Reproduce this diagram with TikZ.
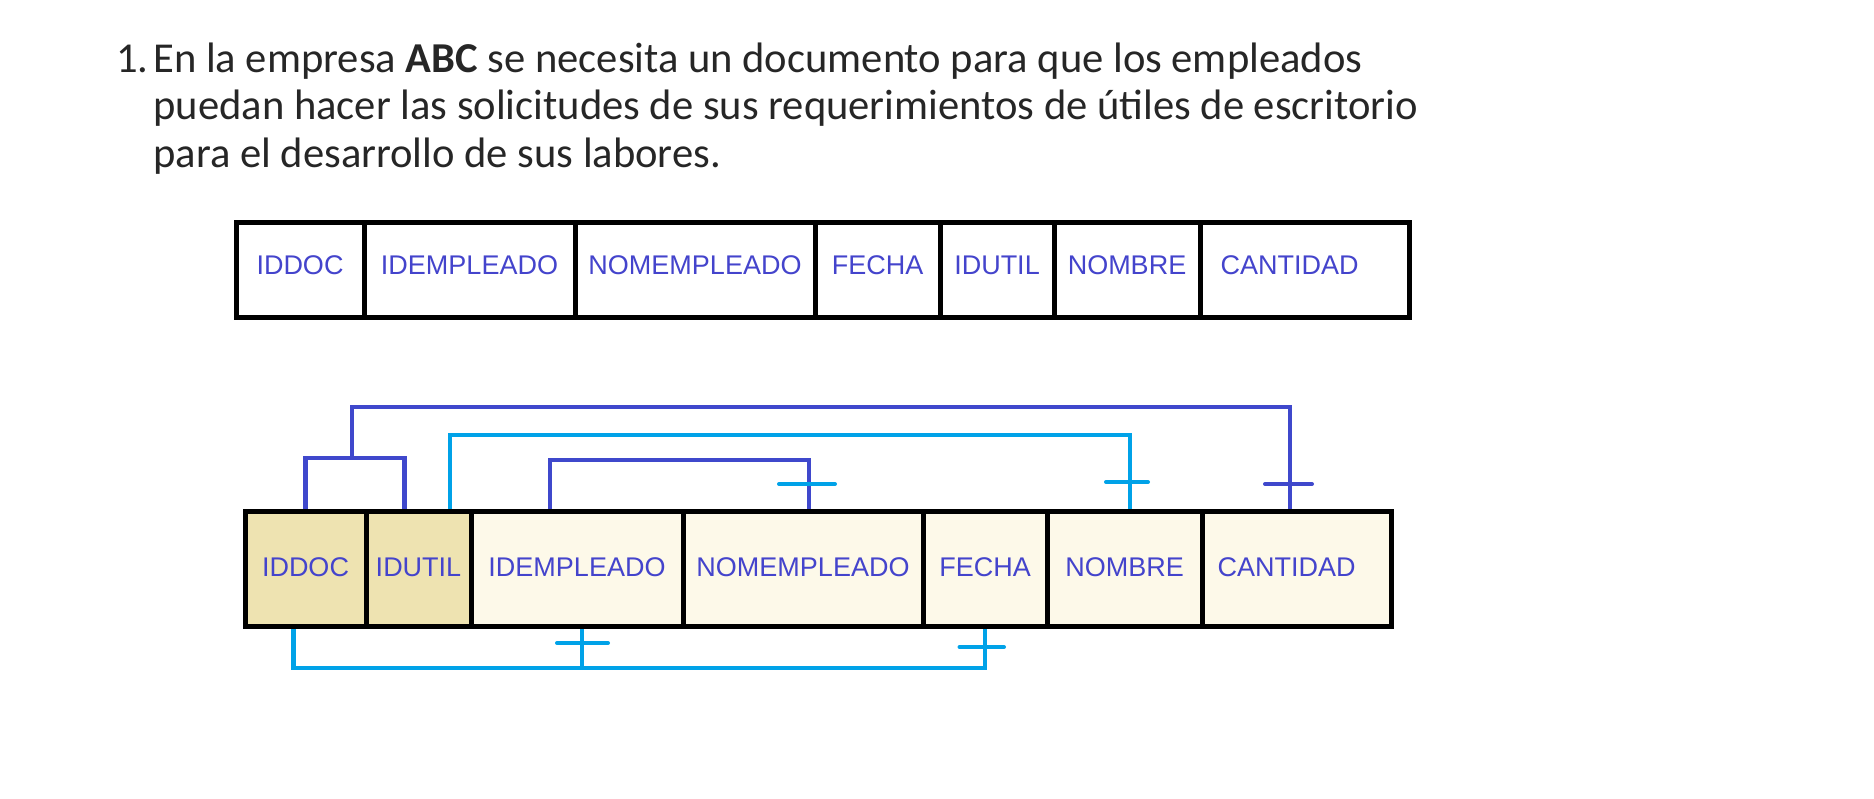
\documentclass[tikz,border=0pt]{standalone}
\usepackage{fontspec}
\setmainfont{Carlito}
\newfontfamily\fieldfont{Liberation Sans}
\usetikzlibrary{calc,positioning}

\definecolor{linkdark}{HTML}{3F48CC}
\definecolor{linklight}{HTML}{00A2E8}
\definecolor{labelblue}{HTML}{4444CC}
\definecolor{pkfill}{HTML}{EEE3B1}
\definecolor{cellfill}{HTML}{FDF9E9}

\begin{document}
\begin{tikzpicture}[x=0.5pt, y=-0.5pt,
    para/.style={anchor=base west, inner sep=0pt, font=\fontsize{21.3}{23.75}\selectfont, text=black!85},
    field/.style={draw, line width=2.5pt, inner sep=0pt, minimum height=#1,
      font=\fieldfont\fontsize{13.5}{16}\selectfont, text=labelblue},
    topfield/.style={field=47.25pt, fill=white, text depth=5pt},
    keyfield/.style={field=57.5pt, fill=pkfill, text depth=1.5pt},
    rowfield/.style={field=57.5pt, fill=cellfill, text depth=1.5pt},
    fkdark/.style={draw=linkdark, line width=2.25pt},
    fklight/.style={draw=linklight, line width=2.25pt},
    bar/.style={line width=2pt, line cap=round}
  ]
    % page frame
    \useasboundingbox (0,0) rectangle (1874,798);

    % statement
    \node[para] (num)   at (116,72)  {1.};
    \node[para] (line1) at (153,72)  {En la empresa \textbf{ABC} se necesita un documento para que los empleados};
    \node[para] (line2) at (153,119) {puedan hacer las solicitudes de sus requerimientos de útiles de escritorio};
    \node[para] (line3) at (153,167) {para el desarrollo de sus labores.};

    % unnormalized table
    \node[topfield, minimum width=64pt]    (t-iddoc)  at (300,270)    {IDDOC};
    \node[topfield, minimum width=105.5pt] (t-idemp)  at (469.5,270)  {IDEMPLEADO};
    \node[topfield, minimum width=120pt]   (t-nomemp) at (695,270)    {NOMEMPLEADO};
    \node[topfield, minimum width=62.5pt]  (t-fecha)  at (877.5,270)  {FECHA};
    \node[topfield, minimum width=57pt]    (t-idutil) at (997,270)    {IDUTIL};
    \node[topfield, minimum width=73pt]    (t-nombre) at (1127,270)   {NOMBRE};
    \node[topfield, minimum width=104.5pt, text width=84pt, align=left] (t-cant) at (1304.5,270) {CANTIDAD};

    % table with dependencies
    \node[keyfield, minimum width=60.5pt] (iddoc)  at (305.5,569)  {IDDOC};
    \node[keyfield, minimum width=52.5pt] (idutil) at (418.5,569)  {IDUTIL};
    \node[rowfield, minimum width=106pt]  (idemp)  at (577,569)    {IDEMPLEADO};
    \node[rowfield, minimum width=120pt]  (nomemp) at (803,569)    {NOMEMPLEADO};
    \node[rowfield, minimum width=62pt]   (fecha)  at (985,569)    {FECHA};
    \node[rowfield, minimum width=77.5pt] (nombre) at (1124.5,569) {NOMBRE};
    \node[rowfield, minimum width=94.5pt, text width=79pt, align=left] (cant) at (1296.5,569) {CANTIDAD};

    % attachment points
    \coordinate (ut1) at ($(idutil.north)+(-14,0)$);
    \coordinate (ut2) at ($(idutil.north)+(31.5,0)$);
    \coordinate (emp1) at ($(idemp.north)+(-27,0)$);
    \coordinate (emp2) at ($(idemp.south)+(5,0)$);
    \coordinate (nom1) at ($(nomemp.north)+(6,0)$);
    \coordinate (nb1) at ($(nombre.north)+(5.5,0)$);
    \coordinate (ct1) at ($(cant.north)+(-6.5,0)$);
    \coordinate (doc2) at ($(iddoc.south)+(-12,0)$);
    \coordinate (pk) at (352,458);

    % full key -> CANTIDAD
    \draw[fkdark] (iddoc.north) |- (pk) -| (ut1);
    \draw[fkdark] (pk) -- ++(0,-51) -| (ct1);
    \draw[bar, linkdark] ($(ct1)+(-25,-25)$) -- ++(47,0);

    % IDUTIL -> NOMBRE
    \draw[fklight] (ut2) -- ++(0,-74) -| (nb1);
    \draw[bar, linklight] ($(nb1)+(-24,-27)$) -- ++(42,0);

    % IDEMPLEADO -> NOMEMPLEADO
    \draw[fkdark] (emp1) -- ++(0,-49) -| (nom1);
    \draw[bar, linklight] ($(nom1)+(-30,-25)$) -- ++(56,0);

    % IDDOC -> IDEMPLEADO, FECHA
    \draw[fklight] (doc2) -- (doc2 |- 0,668) -| (fecha.south);
    \draw[fklight] (emp2) -- (emp2 |- 0,668);
    \draw[bar, linklight] ($(emp2)+(-25,14)$) -- ++(51,0);
    \draw[bar, linklight] ($(fecha.south)+(-25.5,18)$) -- ++(44.5,0);
  \end{tikzpicture}
\end{document}
